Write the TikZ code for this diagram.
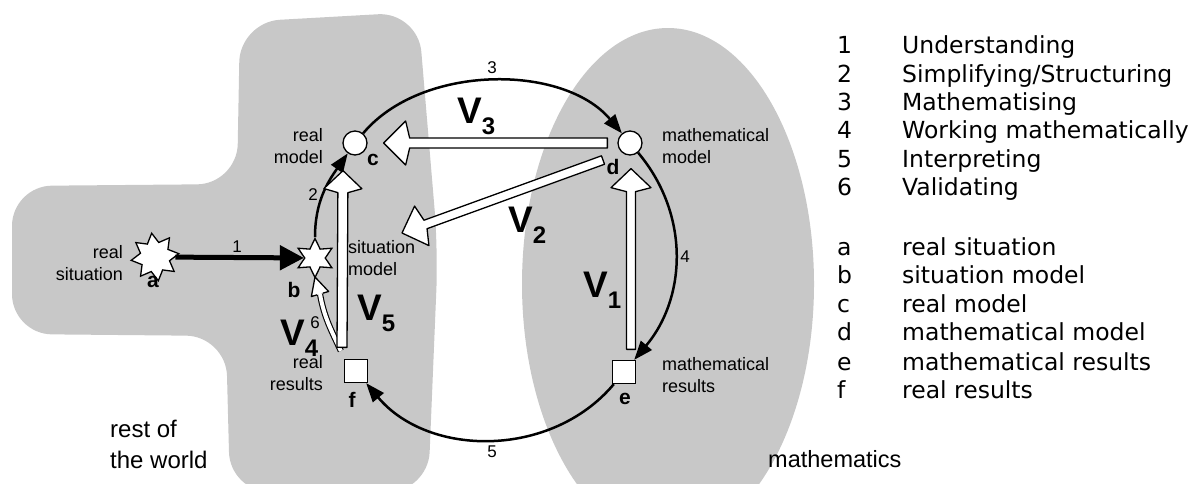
\documentclass[tikz,border=0pt]{standalone}
\usepackage{fontspec}
\setmainfont{Liberation Sans}
\newfontfamily\legendfont{DejaVu Sans}
\usetikzlibrary{arrows.meta,calc,shapes.geometric}

\definecolor{worldgray}{RGB}{200,200,200}
\newcommand\lblsize{\fontsize{18}{21.5}\selectfont}
\newcommand\vlabel[1]{\fontsize{37}{37}\selectfont\bfseries V\raisebox{-11pt}{\fontsize{24}{24}\selectfont #1}}

% hollow block arrow: start, tip, half shaft, half head, head length
\newcommand\hollowarrow[5]{%
  \coordinate (ha-s) at (#1);
  \coordinate (ha-t) at (#2);
  \coordinate (ha-h) at ($(ha-t)!#5!(ha-s)$);
  \coordinate (ha-j) at ($(ha-t)!#5+4pt!(ha-s)$);
  \filldraw[hollow] (ha-t) -- ($(ha-h)!#4!90:(ha-t)$) -- ($(ha-j)!#3!90:(ha-t)$)
    -- ($(ha-s)!#3!90:(ha-t)$) -- ($(ha-s)!#3!-90:(ha-t)$)
    -- ($(ha-j)!#3!-90:(ha-t)$) -- ($(ha-h)!#4!-90:(ha-t)$) -- cycle;
}

\tikzset{
  state/.style={draw, fill=white, line width=1.3pt, inner sep=0pt},
  circ/.style={state, circle, minimum size=24pt},
  sq/.style={state, rectangle, minimum size=23pt},
  burst/.style={state, star, star points=8, star point ratio=1.6, minimum size=48pt, rotate=8},
  sixstar/.style={state, star, star points=6, star point ratio=1.9, minimum size=39pt},
  cyclearc/.style={line width=2.5pt, -{Triangle[length=19pt,width=14pt]}},
  hollow/.style={draw, fill=white, line width=1.3pt, line join=round},
  lbl/.style={font=\lblsize, inner sep=0pt},
  letter/.style={font=\fontsize{21}{21}\selectfont\bfseries, inner sep=0pt},
  stepno/.style={font=\fontsize{17}{17}\selectfont, inner sep=0pt},
  legendtext/.style={font=\legendfont\fontsize{23.5}{24}\selectfont, inner sep=0pt, anchor=base west}
}

\begin{document}
\begin{tikzpicture}[x=1pt, y=1pt]
  \useasboundingbox (0,0) rectangle (1190,-483);
  \clip (0,0) rectangle (1190,-483);
  % rest of the world and mathematics
  \fill[worldgray, rounded corners=40pt] (240,-22) -- (418,-12) -- (438,-250) -- (428,-492)
    -- (230,-492) -- (226,-336) -- (12,-334) -- (12,-186) -- (237,-184) -- cycle;
  \fill[worldgray] (668,-284) ellipse [x radius=146, y radius=256];

  % states of the cycle
  \node[burst] (a) at (155,-257) {};
  \node[sixstar] (b) at (315,-258) {};
  \node[circ] (c) at (355,-143) {};
  \node[circ] (d) at (630,-143) {};
  \node[sq] (e) at (624,-372) {};
  \node[sq] (f) at (356,-371) {};

  % modelling steps
  \draw[line width=5pt, -{Triangle[length=24pt,width=24pt]}] (a) -- (b);
  \draw[cyclearc] (b) to[out=90,in=235] (c);
  \draw[cyclearc] (c) to[out=50,in=130,looseness=0.9] (d);
  \draw[cyclearc] (d) to[out=-50,in=50] (e);
  \draw[cyclearc] (e) to[out=-130,in=-50] (f);

  % validation arrows
  \coordinate (v4t) at ($(b)+(0,-19)$);
  \coordinate (v4h) at ($(b)+(5,-36)$);
  \draw[line width=1.1pt, double=white, double distance=4pt] ($(f.north west)+(-3,8)$) to[out=115,in=-80] (v4h);
  \filldraw[hollow] ($(v4h)!3pt!90:(v4t)$) -- ($(v4h)!9pt!90:(v4t)$) -- (v4t)
    -- ($(v4h)!9pt!-90:(v4t)$) -- ($(v4h)!3pt!-90:(v4t)$);
  \hollowarrow{$(f.north)+(-14,11.5)$}{$(c.south)+(-12,-15)$}{5pt}{19pt}{18pt}
  \hollowarrow{$(d.west)+(-10,0)$}{$(c.east)+(16,0)$}{5pt}{22pt}{22pt}
  \hollowarrow{$(d)+(-27,-17)$}{$(b)+(87,25)$}{4.5pt}{21pt}{21pt}
  \hollowarrow{$(e.north)+(7,10.5)$}{$(d.south)+(1,-13)$}{4.5pt}{20pt}{19pt}

  % step numbers
  \node[stepno] (n1) at (237,-247) {1};
  \node[stepno] (n2) at (313,-195) {2};
  \node[stepno] (n3) at (492,-68) {3};
  \node[stepno] (n4) at (685,-257) {4};
  \node[stepno] (n5) at (492,-452) {5};
  \node[stepno] (n6) at (315,-323) {6};

  % V labels
  \node[anchor=base west, inner sep=0pt] (V3) at (457,-123) {\vlabel{3}};
  \node[anchor=base west, inner sep=0pt] (V2) at (508,-232) {\vlabel{2}};
  \node[anchor=base west, inner sep=0pt] (V1) at (583,-297) {\vlabel{1}};
  \node[anchor=base west, inner sep=0pt] (V5) at (357,-320) {\vlabel{5}};
  \node[anchor=base west, inner sep=0pt] (V4) at (280,-345) {\vlabel{4}};

  % state letters and names
  \node[letter] (la) at (153,-282) {a};
  \node[letter] (lb) at (294,-290) {b};
  \node[letter] (lc) at (373,-160) {c};
  \node[letter] (ld) at (613,-167) {d};
  \node[letter] (le) at (625,-399) {e};
  \node[letter] (lf) at (352,-400) {f};
  \node[lbl, align=right, anchor=base east] (na) at (123,-280) {real\\situation};
  \node[lbl, align=left, anchor=base west] (nb) at (348,-275) {situation\\model};
  \node[lbl, align=right, anchor=base east] (nc) at (323,-163) {real\\model};
  \node[lbl, align=left, anchor=base west] (nd) at (662,-163) {mathematical\\model};
  \node[lbl, align=left, anchor=base west] (ne) at (662,-392) {mathematical\\results};
  \node[lbl, align=right, anchor=base east] (nf) at (323,-390) {real\\results};
  \node[font=\fontsize{24}{31}\selectfont, align=left, anchor=base west, inner sep=0pt] (world) at (110,-468) {rest of\\the world};
  \node[font=\fontsize{23.5}{28}\selectfont, anchor=base west, inner sep=0pt] (maths) at (768,-467) {mathematics};

  % legend
  \node[legendtext] (k1) at (837,-53) {1};  \node[legendtext] (t1) at (902,-53) {Understanding};
  \node[legendtext] (k2) at (837,-82) {2};  \node[legendtext] (t2) at (902,-82) {Simplifying/Structuring};
  \node[legendtext] (k3) at (837,-110) {3}; \node[legendtext] (t3) at (902,-110) {Mathematising};
  \node[legendtext] (k4) at (837,-138) {4}; \node[legendtext] (t4) at (902,-138) {Working mathematically};
  \node[legendtext] (k5) at (837,-167) {5}; \node[legendtext] (t5) at (902,-167) {Interpreting};
  \node[legendtext] (k6) at (837,-195) {6}; \node[legendtext] (t6) at (902,-195) {Validating};
  \node[legendtext] (ka) at (837,-255) {a}; \node[legendtext] (ta) at (902,-255) {real situation};
  \node[legendtext] (kb) at (837,-283) {b}; \node[legendtext] (tb) at (902,-283) {situation model};
  \node[legendtext] (kc) at (837,-312) {c}; \node[legendtext] (tc) at (902,-312) {real model};
  \node[legendtext] (kd) at (837,-340) {d}; \node[legendtext] (td) at (902,-340) {mathematical model};
  \node[legendtext] (ke) at (837,-370) {e}; \node[legendtext] (te) at (902,-370) {mathematical results};
  \node[legendtext] (kf) at (837,-398) {f}; \node[legendtext] (tf) at (902,-398) {real results};
\end{tikzpicture}
\end{document}
